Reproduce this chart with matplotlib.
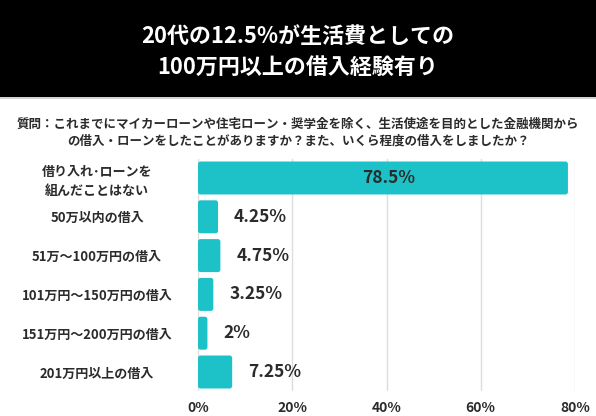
import matplotlib
matplotlib.use("Agg")
import matplotlib.pyplot as plt
from matplotlib.patches import FancyBboxPatch, Rectangle
from matplotlib.lines import Line2D

plt.rcParams['font.family'] = ['Noto Sans CJK JP', 'DejaVu Sans']

# data
categories = [
    "借り入れ･ローンを\n組んだことはない",
    "50万以内の借入",
    "51万〜100万円の借入",
    "101万円〜150万円の借入",
    "151万円〜200万円の借入",
    "201万円以上の借入",
]
values = [78.5, 4.25, 4.75, 3.25, 2, 7.25]
value_labels = ["78.5%", "4.25%", "4.75%", "3.25%", "2%", "7.25%"]
xticks = [0, 20, 40, 60, 80]
xtick_labels = ["0%", "20%", "40%", "60%", "80%"]

title = "20代の12.5%が生活費としての\n100万円以上の借入経験有り"
question = ("質問：これまでにマイカーローンや住宅ローン・奨学金を除く、生活使途を目的とした金融機関から\n"
            "の借入・ローンをしたことがありますか？また、いくら程度の借入をしましたか？")

bar_color = "#1cc2c8"
text_color = "#2b2b2b"

W, H = 596, 416
fig = plt.figure(figsize=(W / 100, H / 100), dpi=100)

# black title band
fig.patches.append(Rectangle((0, 1 - 97 / H), 1, 97 / H, transform=fig.transFigure,
                             facecolor="black", edgecolor="none", zorder=0))
fig.lines.append(Line2D([0, 1], [1 - 98 / H, 1 - 98 / H], transform=fig.transFigure,
                        color="#cccccc", linewidth=1.2))
fig.text(0.5, 1 - 52 / H, title, color="white", fontsize=15.8, fontweight="bold",
         ha="center", va="center", linespacing=1.45)
fig.text(0.5, 1 - 133 / H, question, color=text_color, fontsize=9.0, fontweight="bold",
         ha="center", va="center", linespacing=1.4)

ax = fig.add_axes([198 / W, 1 - 391.4 / H, (575 - 198) / W, (391.4 - 158.6) / H])
ypos = list(range(len(values)))
bars = ax.barh(ypos, values, height=0.85, color=bar_color)

# swap in slightly rounded bars
x_px = (575 - 198) / 80
y_px = 38.8
for b in bars:
    b.set_visible(False)
    ax.add_patch(FancyBboxPatch((b.get_x(), b.get_y()), b.get_width(), b.get_height(),
                                boxstyle="round,pad=0,rounding_size=%f" % (2.5 / x_px),
                                mutation_aspect=x_px / y_px,
                                facecolor=bar_color, edgecolor="none", zorder=3))

for i, (v, lab) in enumerate(zip(values, value_labels)):
    if v > 40:
        ax.text(v / 2 + 1.2, i, lab, ha="center", va="center", fontsize=12.5,
                fontweight="bold", color=text_color, zorder=4)
    else:
        ax.annotate(lab, (v, i), xytext=(11.5, 0), textcoords="offset points",
                    ha="left", va="center", fontsize=12.5, fontweight="bold",
                    color=text_color, zorder=4)

ax.set_xlim(0, 80)
ax.set_ylim(len(values) - 0.5, -0.5)
ax.set_xticks(xticks)
ax.set_xticklabels(xtick_labels, fontsize=10, fontweight="bold", color=text_color)
ax.set_yticks(ypos)
ax.set_yticklabels(categories, fontsize=9.4, fontweight="bold", color=text_color,
                   ha="center", linespacing=1.45)
ax.tick_params(axis="y", length=0, pad=72.7)
ax.tick_params(axis="x", length=0, pad=7)
ax.grid(axis="x", color="#dddddd", linewidth=1)
ax.set_axisbelow(True)
for s in ax.spines.values():
    s.set_visible(False)

fig.savefig("out.png", dpi=100)
